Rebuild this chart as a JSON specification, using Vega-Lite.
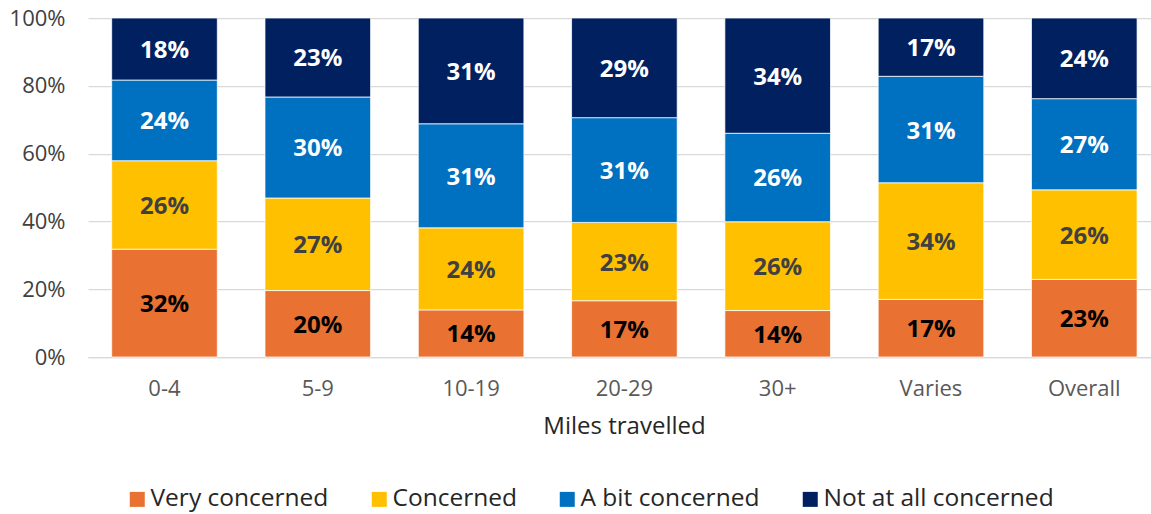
{
  "$schema": "https://vega.github.io/schema/vega-lite/v6.json",
  "width": 1063,
  "height": 339,
  "autosize": {"type": "none"},
  "padding": {"left": 88, "top": 18, "right": 0, "bottom": 157},
  "background": "#ffffff",
  "config": {
    "font": "Open Sans",
    "view": {"stroke": null}
  },
  "data": {
    "values": [
      {"g": "0-4", "cat": "Very concerned", "k": 1, "v": 0.318},
      {"g": "0-4", "cat": "Concerned", "k": 2, "v": 0.261},
      {"g": "0-4", "cat": "A bit concerned", "k": 3, "v": 0.238},
      {"g": "0-4", "cat": "Not at all concerned", "k": 4, "v": 0.183},
      {"g": "5-9", "cat": "Very concerned", "k": 1, "v": 0.196},
      {"g": "5-9", "cat": "Concerned", "k": 2, "v": 0.273},
      {"g": "5-9", "cat": "A bit concerned", "k": 3, "v": 0.298},
      {"g": "5-9", "cat": "Not at all concerned", "k": 4, "v": 0.233},
      {"g": "10-19", "cat": "Very concerned", "k": 1, "v": 0.139},
      {"g": "10-19", "cat": "Concerned", "k": 2, "v": 0.242},
      {"g": "10-19", "cat": "A bit concerned", "k": 3, "v": 0.307},
      {"g": "10-19", "cat": "Not at all concerned", "k": 4, "v": 0.312},
      {"g": "20-29", "cat": "Very concerned", "k": 1, "v": 0.166},
      {"g": "20-29", "cat": "Concerned", "k": 2, "v": 0.231},
      {"g": "20-29", "cat": "A bit concerned", "k": 3, "v": 0.309},
      {"g": "20-29", "cat": "Not at all concerned", "k": 4, "v": 0.294},
      {"g": "30+", "cat": "Very concerned", "k": 1, "v": 0.137},
      {"g": "30+", "cat": "Concerned", "k": 2, "v": 0.262},
      {"g": "30+", "cat": "A bit concerned", "k": 3, "v": 0.261},
      {"g": "30+", "cat": "Not at all concerned", "k": 4, "v": 0.340},
      {"g": "Varies", "cat": "Very concerned", "k": 1, "v": 0.170},
      {"g": "Varies", "cat": "Concerned", "k": 2, "v": 0.344},
      {"g": "Varies", "cat": "A bit concerned", "k": 3, "v": 0.314},
      {"g": "Varies", "cat": "Not at all concerned", "k": 4, "v": 0.172},
      {"g": "Overall", "cat": "Very concerned", "k": 1, "v": 0.229},
      {"g": "Overall", "cat": "Concerned", "k": 2, "v": 0.264},
      {"g": "Overall", "cat": "A bit concerned", "k": 3, "v": 0.269},
      {"g": "Overall", "cat": "Not at all concerned", "k": 4, "v": 0.238}
    ]
  },
  "transform": [
    {"stack": "v", "groupby": ["g"], "sort": [{"field": "k", "order": "ascending"}], "as": ["y0", "y1"]}
  ],
  "encoding": {
    "x": {
      "field": "g",
      "type": "nominal",
      "sort": ["0-4", "5-9", "10-19", "20-29", "30+", "Varies", "Overall"],
      "scale": {"paddingInner": 0.311, "paddingOuter": 0.1226, "align": 0.63},
      "axis": {
        "title": "Miles travelled",
        "titleFontSize": 24,
        "titleFontWeight": "normal",
        "titleColor": "#262626",
        "titleX": 536,
        "titleY": 76,
        "titleBaseline": "alphabetic",
        "labelAngle": 0,
        "labelFontSize": 22,
        "labelColor": "#595959",
        "labelPadding": 21,
        "ticks": false,
        "domain": true,
        "domainColor": "#d9d9d9",
        "domainWidth": 1.25
      }
    }
  },
  "layer": [
    {
      "mark": {"type": "bar", "stroke": "#ffffff", "strokeWidth": 0.75},
      "encoding": {
        "y": {
          "field": "y0",
          "type": "quantitative",
          "scale": {"domain": [0, 1], "nice": false},
          "axis": {
            "title": null,
            "values": [0, 0.2, 0.4, 0.6, 0.8, 1],
            "format": ".0%",
            "labelFontSize": 22,
            "labelColor": "#404040",
            "labelPadding": 23,
            "ticks": false,
            "domain": false,
            "grid": true,
            "gridColor": "#d9d9d9",
            "gridWidth": 1.25
          }
        },
        "y2": {"field": "y1"},
        "color": {
          "field": "cat",
          "type": "nominal",
          "scale": {
            "domain": ["Very concerned", "Concerned", "A bit concerned", "Not at all concerned"],
            "range": ["#E97132", "#FFC000", "#0070C0", "#002060"]
          },
          "legend": {
            "title": null,
            "orient": "none",
            "legendX": 37,
            "legendY": 469,
            "direction": "horizontal",
            "padding": 0,
            "symbolType": "square",
            "symbolSize": 225,
            "symbolStrokeWidth": 0,
            "symbolOpacity": 1,
            "labelFontSize": 24.5,
            "labelColor": "#262626",
            "labelOffset": 1,
            "labelLimit": 400,
            "columnPadding": 38
          }
        }
      }
    },
    {
      "transform": [
        {"fold": ["y0", "y1"], "as": ["edge", "ev"]},
        {"aggregate": [{"op": "mean", "field": "ev", "as": "mid"}], "groupby": ["g", "cat", "v"]}
      ],
      "mark": {"type": "text", "fontSize": 24, "fontWeight": "bold", "baseline": "middle", "align": "center", "dy": 2},
      "encoding": {
        "y": {"field": "mid", "type": "quantitative"},
        "text": {"field": "v", "type": "quantitative", "format": ".0%"},
        "color": {
          "condition": [
            {"test": "datum.cat === 'Very concerned'", "value": "#000000"},
            {"test": "datum.cat === 'Concerned'", "value": "#404040"}
          ],
          "value": "#ffffff"
        }
      }
    }
  ]
}
